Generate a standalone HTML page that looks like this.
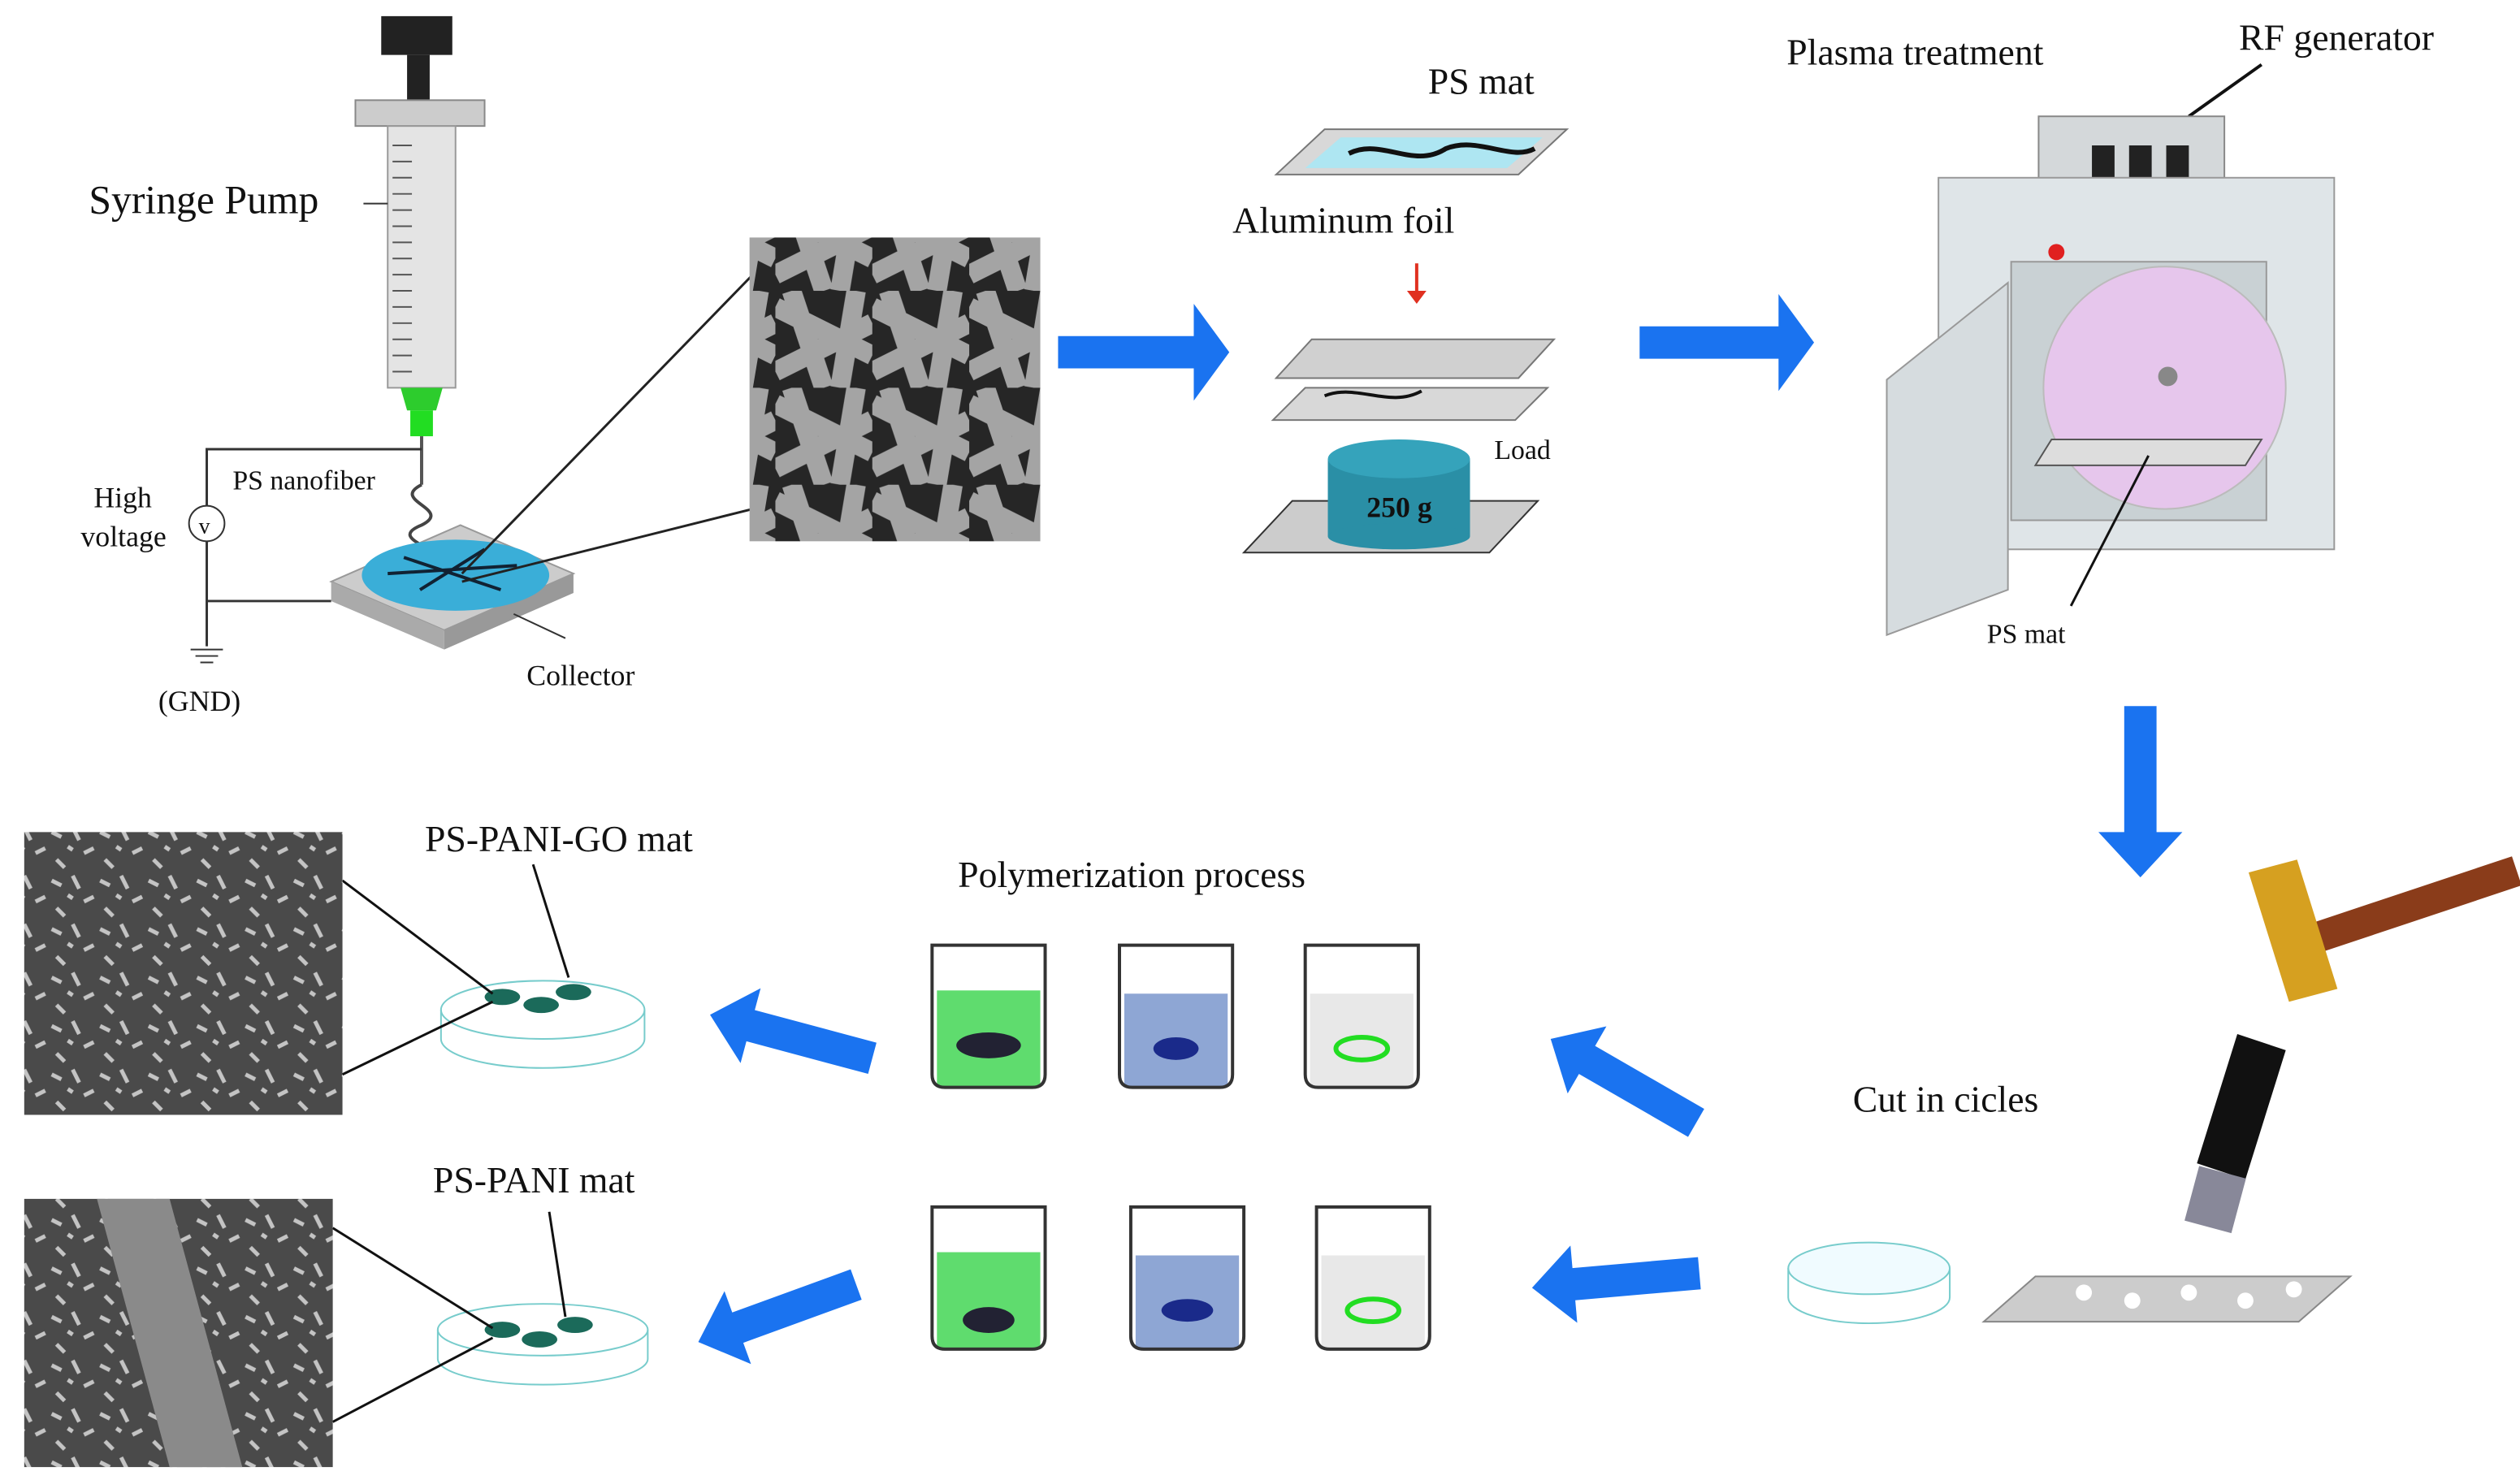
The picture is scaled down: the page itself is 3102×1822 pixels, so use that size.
<!DOCTYPE html>
<html><head><meta charset="utf-8"><style>
html,body{margin:0;padding:0;background:#fff;width:3102px;height:1822px;overflow:hidden}
svg{display:block}
text{font-family:"Liberation Serif",serif;fill:#111}
</style></head><body>
<svg width="3102" height="1822" viewBox="0 0 1560 916" preserveAspectRatio="none">
<defs>
<pattern id="fib" width="60" height="60" patternUnits="userSpaceOnUse">
<rect width="60" height="60" fill="#262626"/>
<path d="M0 10 L60 40 M10 0 L30 60 M50 0 L40 60 M0 50 L60 20" stroke="#a4a4a4" stroke-width="12"/>
</pattern>
<pattern id="rough" width="30" height="30" patternUnits="userSpaceOnUse">
<rect width="30" height="30" fill="#4a4a4a"/>
<path d="M2 5 l6 3 M15 2 l4 8 M22 18 l6 -3 M5 22 l5 5 M12 14 l3 2" stroke="#c4c4c4" stroke-width="2.5"/>
</pattern>
<g id="beaker"><path d="M0 0 h70 v80 q0 8 -8 8 h-54 q-8 0 -8 -8 z" fill="none" stroke="#333" stroke-width="2"/></g>
</defs>

<!-- syringe -->
<rect x="236" y="10" width="44" height="24" fill="#222"/>
<rect x="252" y="34" width="14" height="28" fill="#222"/>
<rect x="220" y="62" width="80" height="16" fill="#ccc" stroke="#888"/>
<rect x="240" y="78" width="42" height="162" fill="#e4e4e4" stroke="#999"/>
<path d="M243 90 h12 M243 100 h12 M243 110 h12 M243 120 h12 M243 130 h12 M243 140 h12 M243 150 h12 M243 160 h12 M243 170 h12 M243 180 h12 M243 190 h12 M243 200 h12 M243 210 h12 M243 220 h12 M243 230 h12" stroke="#555"/>
<path d="M248 240 h26 l-4 14 h-18 z" fill="#2dcc2d"/>
<rect x="254" y="254" width="14" height="16" fill="#22dd22"/>
<line x1="261" y1="270" x2="261" y2="300" stroke="#555" stroke-width="2"/>
<path d="M261 300 c-20 10 20 15 0 25 c-25 10 25 15 0 25" fill="none" stroke="#444" stroke-width="2"/>
<text x="55" y="132" font-size="25">Syringe Pump</text>
<line x1="225" y1="126" x2="240" y2="126" stroke="#333"/>
<text x="144" y="303" font-size="17">PS nanofiber</text>
<text x="58" y="314" font-size="18">High</text>
<text x="50" y="338" font-size="18">voltage</text>
<circle cx="128" cy="324" r="11" fill="#fff" stroke="#333"/>
<text x="123" y="330" font-size="14">v</text>
<path d="M128 313 V278 H261 M128 335 V400 M128 372 H205" fill="none" stroke="#333" stroke-width="1.5"/>
<path d="M118 402 h20 M121 406 h14 M124 410 h8" stroke="#333"/>
<text x="98" y="440" font-size="18">(GND)</text>
<path d="M205 360 l80 -35 l70 30 l-80 35 z" fill="#ccc" stroke="#999"/>
<path d="M205 360 v12 l70 30 v-12 z" fill="#aaa"/>
<path d="M275 390 v12 l80 -35 v-12 z" fill="#999"/>
<ellipse cx="282" cy="356" rx="58" ry="22" fill="#3aaed8"/>
<path d="M240 355 l80 -5 M250 345 l60 20 M260 365 l40 -25" stroke="#123" stroke-width="2"/>
<text x="326" y="424" font-size="18">Collector</text>
<line x1="318" y1="380" x2="350" y2="395" stroke="#333"/>
<line x1="286" y1="355" x2="466" y2="170" stroke="#222" stroke-width="1.5"/>
<line x1="286" y1="360" x2="466" y2="315" stroke="#222" stroke-width="1.5"/>
<rect x="464" y="147" width="180" height="188" fill="url(#fib)"/>

<!-- blue arrows -->
<g fill="#1a73f0">
<path d="M655 208 h84 v-20 l22 30 l-22 30 v-20 h-84 z"/>
<path d="M1015 202 h86 v-20 l22 30 l-22 30 v-20 h-86 z"/>
<path d="M1315 437 h20 v78 h16 l-26 28 l-26 -28 h16 z"/>
</g>
<g fill="#1a73f0">
<path transform="translate(1050 695) rotate(-150)" d="M0 -10 h78 v-14 l26 24 l-26 24 v-14 h-78 z"/>
<path transform="translate(540 655) rotate(-165)" d="M0 -10 h78 v-14 l26 24 l-26 24 v-14 h-78 z"/>
<path transform="translate(1052 788) rotate(175)" d="M0 -10 h78 v-14 l26 24 l-26 24 v-14 h-78 z"/>
<path transform="translate(530 795) rotate(160)" d="M0 -10 h78 v-14 l26 24 l-26 24 v-14 h-78 z"/>
</g>

<!-- PS mat / foil -->
<text x="884" y="58" font-size="23">PS mat</text>
<path d="M820 80 h150 l-30 28 h-150 z" fill="#d8d8d8" stroke="#777"/>
<path d="M830 85 h125 l-22 19 h-125 z" fill="#aee6f2"/>
<path d="M835 95 c20 -10 40 10 60 -3 c20 -8 40 8 55 0" fill="none" stroke="#111" stroke-width="3"/>
<text x="763" y="144" font-size="23">Aluminum foil</text>
<line x1="877" y1="163" x2="877" y2="180" stroke="#e03020" stroke-width="2"/>
<path d="M871 180 l6 8 l6 -8 z" fill="#e03020"/>
<path d="M808 240 h150 l-20 20 h-150 z" fill="#d8d8d8" stroke="#777"/>
<path d="M812 210 h150 l-22 24 h-150 z" fill="#d0d0d0" stroke="#777"/>
<path d="M820 245 c20 -8 40 8 60 -3" stroke="#111" stroke-width="2" fill="none"/>
<path d="M800 310 h152 l-30 32 h-152 z" fill="#ccc" stroke="#333"/>
<rect x="822" y="284" width="88" height="48" fill="#2a8fa6"/>
<ellipse cx="866" cy="332" rx="44" ry="8" fill="#2a8fa6"/>
<ellipse cx="866" cy="284" rx="44" ry="12" fill="#35a3bb"/>
<text x="846" y="320" font-size="18" font-weight="bold">250 g</text>
<text x="925" y="284" font-size="17">Load</text>

<!-- plasma -->
<text x="1106" y="40" font-size="23">Plasma treatment</text>
<text x="1386" y="31" font-size="23">RF generator</text>
<line x1="1400" y1="40" x2="1355" y2="72" stroke="#111" stroke-width="2"/>
<rect x="1262" y="72" width="115" height="65" fill="#d4d8da" stroke="#888"/>
<g fill="#222"><rect x="1295" y="90" width="14" height="42"/><rect x="1318" y="90" width="14" height="42"/><rect x="1341" y="90" width="14" height="42"/></g>
<rect x="1200" y="110" width="245" height="230" fill="#dfe5e8" stroke="#999"/>
<rect x="1245" y="162" width="158" height="160" fill="#c9d1d4" stroke="#999"/>
<circle cx="1340" cy="240" r="75" fill="#e6c6ec" stroke="#bbb"/>
<circle cx="1342" cy="233" r="6" fill="#888"/>
<circle cx="1273" cy="156" r="5" fill="#e02020"/>
<path d="M1270 272 h130 l-10 16 h-130 z" fill="#ddd" stroke="#555"/>
<path d="M1168 235 l75 -60 v190 l-75 28 z" fill="#d6dcdf" stroke="#999"/>
<text x="1230" y="398" font-size="17">PS mat</text>
<line x1="1282" y1="375" x2="1330" y2="282" stroke="#111" stroke-width="1.5"/>

<!-- hammer & punch -->
<path d="M1420 575 l135 -45 l6 18 l-135 45 z" fill="#8a3c1a"/>
<path d="M1392 540 l30 -8 l25 80 l-30 8 z" fill="#d6a020"/>
<path d="M1360 720 l25 -80 l30 10 l-25 80 z" fill="#111"/>
<rect x="1357" y="725" width="30" height="35" fill="#889" transform="rotate(15 1372 740)"/>
<path d="M1260 790 h195 l-32 28 h-195 z" fill="#ccc" stroke="#888"/>
<g fill="#fff"><circle cx="1290" cy="800" r="5"/><circle cx="1320" cy="805" r="5"/><circle cx="1355" cy="800" r="5"/><circle cx="1390" cy="805" r="5"/><circle cx="1420" cy="798" r="5"/></g>
<text x="1147" y="688" font-size="23">Cut in cicles</text>
<ellipse cx="1157" cy="785" rx="50" ry="16" fill="#f0fbff" stroke="#7cc"/>
<path d="M1107 785 v18 a50 16 0 0 0 100 0 v-18" fill="none" stroke="#7cc"/>

<!-- beakers -->
<text x="593" y="549" font-size="23">Polymerization process</text>
<g transform="translate(577 585)"><rect x="3" y="28" width="64" height="60" fill="#5fdc6e"/><use href="#beaker"/><ellipse cx="35" cy="62" rx="20" ry="8" fill="#223"/></g>
<g transform="translate(693 585)"><rect x="3" y="30" width="64" height="58" fill="#8ea6d4"/><use href="#beaker"/><ellipse cx="35" cy="64" rx="14" ry="7" fill="#1a2a8a"/></g>
<g transform="translate(808 585)"><rect x="3" y="30" width="64" height="58" fill="#e8e8e8"/><use href="#beaker"/><ellipse cx="35" cy="64" rx="16" ry="7" fill="none" stroke="#2d2" stroke-width="3"/></g>
<g transform="translate(577 747)"><rect x="3" y="28" width="64" height="60" fill="#5fdc6e"/><use href="#beaker"/><ellipse cx="35" cy="70" rx="16" ry="8" fill="#223"/></g>
<g transform="translate(700 747)"><rect x="3" y="30" width="64" height="58" fill="#8ea6d4"/><use href="#beaker"/><ellipse cx="35" cy="64" rx="16" ry="7" fill="#1a2a8a"/></g>
<g transform="translate(815 747)"><rect x="3" y="30" width="64" height="58" fill="#e8e8e8"/><use href="#beaker"/><ellipse cx="35" cy="64" rx="16" ry="7" fill="none" stroke="#2d2" stroke-width="3"/></g>

<!-- petri dishes -->
<text x="263" y="527" font-size="23">PS-PANI-GO mat</text>
<text x="268" y="738" font-size="23">PS-PANI mat</text>
<g fill="none" stroke="#7cc"><ellipse cx="336" cy="625" rx="63" ry="18"/><path d="M273 625 v18 a63 18 0 0 0 126 0 v-18"/>
<ellipse cx="336" cy="823" rx="65" ry="16"/><path d="M271 823 v18 a65 16 0 0 0 130 0 v-18"/></g>
<g fill="#1b6a5a"><ellipse cx="311" cy="617" rx="11" ry="5"/><ellipse cx="335" cy="622" rx="11" ry="5"/><ellipse cx="355" cy="614" rx="11" ry="5"/>
<ellipse cx="311" cy="823" rx="11" ry="5"/><ellipse cx="334" cy="829" rx="11" ry="5"/><ellipse cx="356" cy="820" rx="11" ry="5"/></g>
<g stroke="#111" stroke-width="1.5"><line x1="330" y1="535" x2="352" y2="605"/><line x1="340" y1="750" x2="350" y2="815"/>
<line x1="212" y1="545" x2="305" y2="615"/><line x1="212" y1="665" x2="305" y2="620"/>
<line x1="206" y1="760" x2="305" y2="822"/><line x1="206" y1="880" x2="305" y2="828"/></g>
<rect x="15" y="515" width="197" height="175" fill="url(#rough)"/>
<rect x="15" y="742" width="191" height="166" fill="url(#rough)"/>
<path d="M60 742 l45 166 h45 l-45 -166 z" fill="#8a8a8a"/>
</svg>
</body></html>
